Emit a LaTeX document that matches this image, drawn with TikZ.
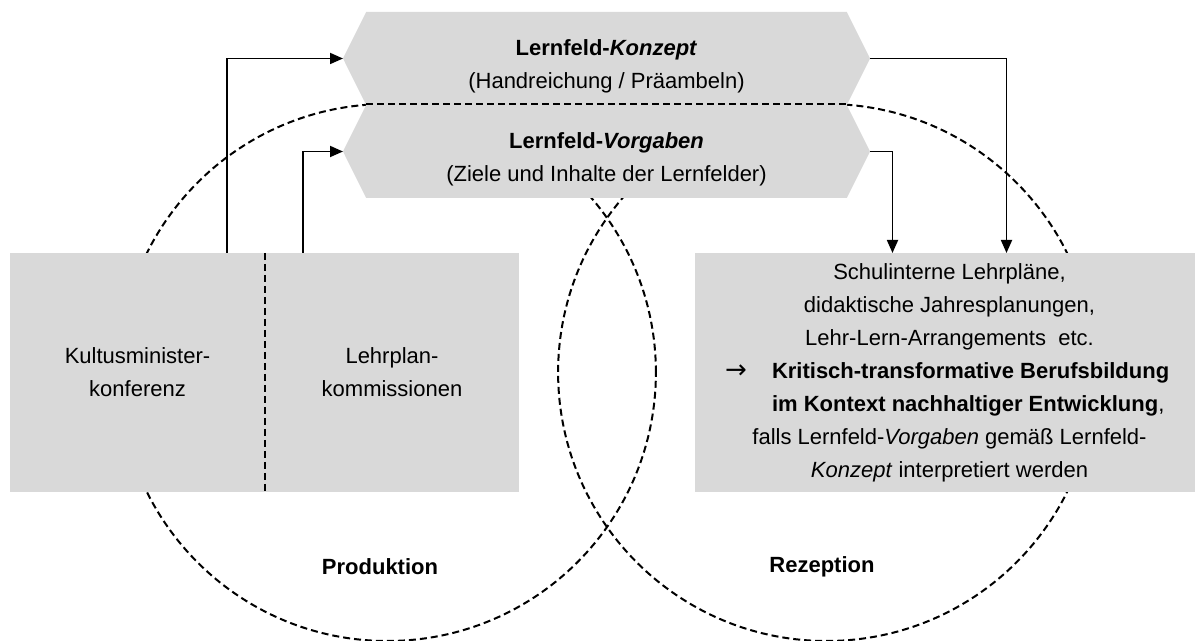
\documentclass[tikz,border=0pt]{standalone}
\usepackage{fontspec}
\setmainfont{Liberation Sans}
\newfontfamily\arrowfont{DejaVu Sans}
\usepackage{tikz}
\usetikzlibrary{arrows.meta,
  positioning,
  shapes.symbols
}
\definecolor{boxgray}{HTML}{D9D9D9}
\newcommand{\hexstrut}{\rule{0pt}{16pt}}

\begin{document}
\begin{tikzpicture}[x=0.5pt, y=-0.5pt,
        every node/.style={font=\fontsize{11}{16.5}\selectfont, inner sep=0pt, outer sep=0pt},
        hexnode/.style={signal, signal to=west and east, signal pointer angle=127, fill=boxgray, minimum width=263.5pt, minimum height=46.5pt, align=center},
        greynode/.style={rectangle, fill=boxgray, minimum height=119.5pt, align=center},
        ringnode/.style={circle, draw=black, ringline, minimum size=268.5pt},
        ringline/.style={line width=1pt, dash pattern=on 3.5pt off 2pt},
        linkline/.style={line width=0.9pt, -{Triangle[length=6.5pt, width=5.5pt]}},
      ]
      \useasboundingbox (0,0) rectangle (1195,641);

      % Rings
      \node[ringnode] (prodring) at (387.4,372.5) {};
      \node[ringnode] (rezring) at (826.6,372.5) {};

      % Nodes
      \node[hexnode] (konzept) at (606.5,58.5) {\hexstrut\textbf{Lernfeld-\textit{Konzept}}\\(Handreichung / Präambeln)};
      \node[hexnode] (vorgaben) [below=0pt of konzept] {\hexstrut\textbf{Lernfeld-\textit{Vorgaben}}\\(Ziele und Inhalte der Lernfelder)};

      \node[greynode, minimum width=127.5pt] (kmk) at (137.5,372.5) {Kultusminister-\\konferenz};
      \node[greynode, minimum width=127pt] (lpk) [right=0pt of kmk] {Lehrplan-\\kommissionen};
      \node[greynode, minimum width=254.5pt] (schule) at (949.5,372.5) {Schulinterne Lehrpläne,\\
        didaktische Jahresplanungen,\\
        Lehr-Lern-Arrangements\ \ etc.\\
        \makebox[224.5pt][l]{\makebox[23.5pt][l]{\arrowfont\fontsize{13}{16.5}\selectfont →}\textbf{Kritisch-transformative Berufsbildung}}\\
        \makebox[224.5pt][l]{\hspace*{23.5pt}\textbf{im Kontext nachhaltiger Entwicklung},}\\
        falls Lernfeld-\textit{Vorgaben} gemäß Lernfeld-\\
        \textit{Konzept} interpretiert werden};

      \node (prod) at (380,567) {\textbf{Produktion}};
      \node (rez) at (822,567) {\textbf{Rezeption}};

      % Lines
      \draw[ringline] ([xshift=-10.5pt]prodring.north) -- ([xshift=10.5pt]rezring.north);
      \draw[ringline] (kmk.north east) -- (kmk.south east);
      \draw[linkline] ([xshift=-19pt]kmk.north east) |- (konzept.west);
      \draw[linkline] ([xshift=19pt]lpk.north west) |- (vorgaben.west);
      \draw[linkline] (konzept.east) -| ([xshift=28.5pt]schule.north);
      \draw[linkline] (vorgaben.east) -| ([xshift=-28.5pt]schule.north);
\end{tikzpicture}
\end{document}
